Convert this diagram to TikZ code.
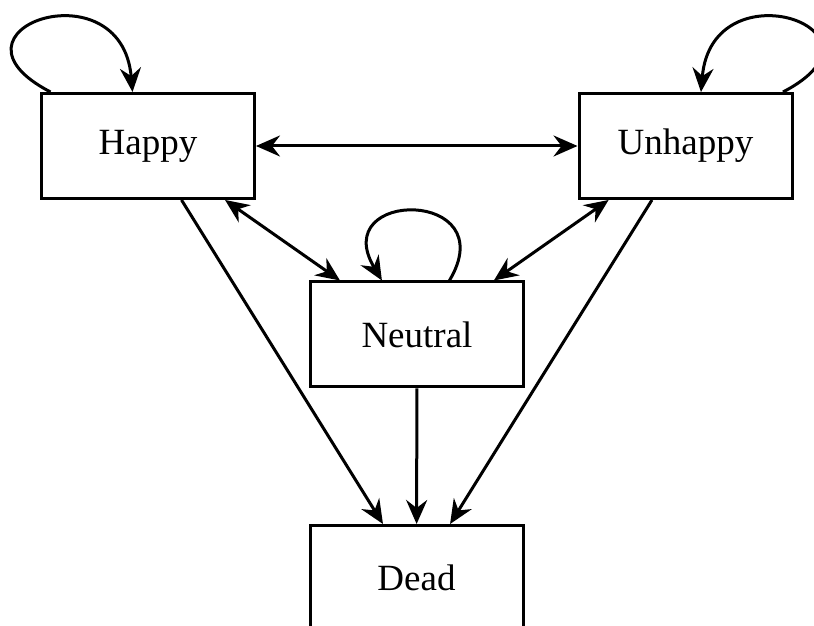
\documentclass[tikz,border=0pt]{standalone}
\usepackage{fontspec}
\setmainfont{Liberation Serif}
\usetikzlibrary{arrows.meta}
\begin{document}
\begin{tikzpicture}[x=0.5pt,y=0.5pt,line width=1.5pt,
		>={Stealth[length=12pt,width=10.5pt,inset=4pt]},
		state/.style={draw,minimum width=106.5pt,minimum height=52.5pt,inner sep=0pt,font=\fontsize{18.5}{22}\selectfont}]
	\useasboundingbox (0,0) rectangle (814,626);
	\node[state] (happy) at (148,480) {Happy};
	\node[state] (unhappy) at (685.5,480) {Unhappy};
	\node[state] (neutral) at (417,291.5) {Neutral};
	\node[state] (dead) at (416.5,48) {Dead};
	\draw[<->] (happy) -- (unhappy);
	\draw[<->] (happy) -- (neutral);
	\draw[<->] (unhappy) -- (neutral);
	\draw[->] (happy) -- (dead);
	\draw[->] (neutral) -- (dead);
	\draw[->] (unhappy) -- (dead);
	% self loops
	\draw[->] (happy.151) .. controls +(-120,62) and +(-11,128) .. (happy.106);
	\draw[->] (unhappy.29) .. controls +(120,62) and +(11,128) .. (unhappy.74);
	\draw[->] (neutral.59) .. controls +(55,92) and +(-55,92) .. (neutral.123);
\end{tikzpicture}
\end{document}
